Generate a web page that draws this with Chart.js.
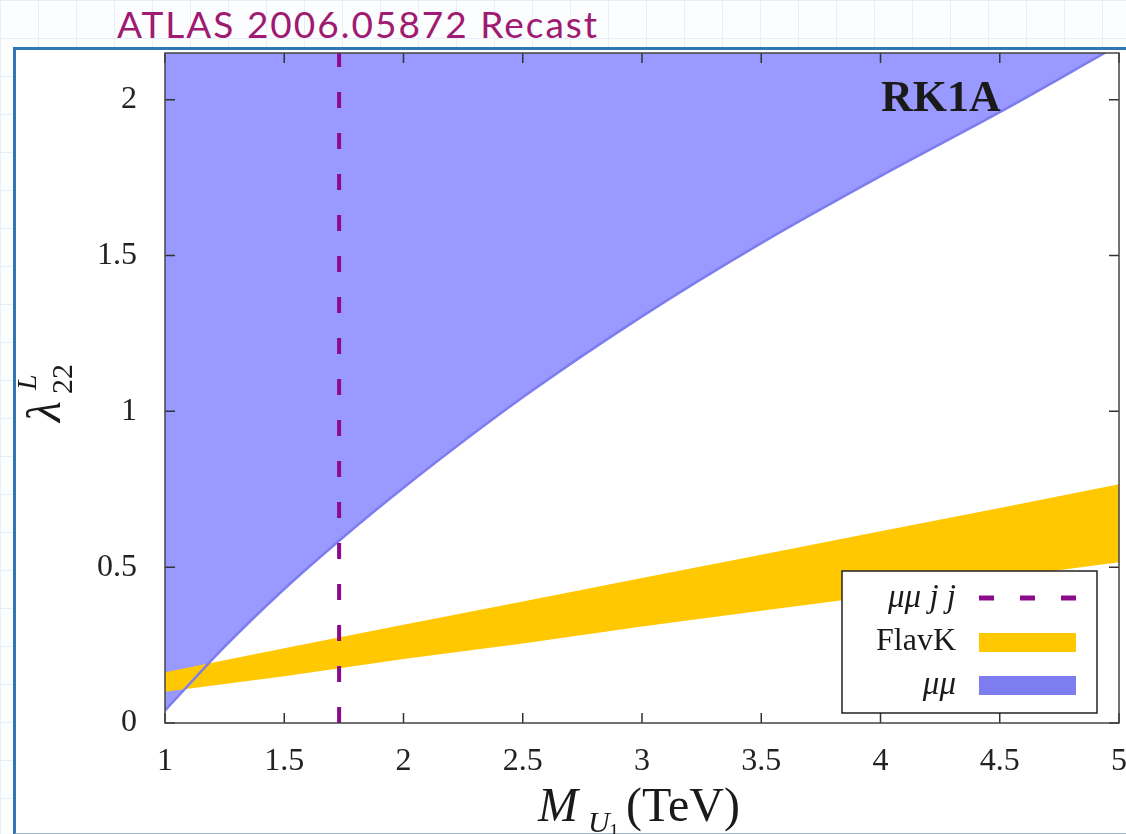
<!DOCTYPE html>
<html>
<head>
<meta charset="utf-8">
<script src="https://cdn.jsdelivr.net/npm/chart.js@4.4.0/dist/chart.umd.min.js"></script>
<style>
html, body { margin: 0; padding: 0; }
body {
    width: 1126px; height: 834px; overflow: hidden; position: relative;
    background-color: #fbfdff;
    background-image: linear-gradient(#e6eff7 1px, transparent 1px), linear-gradient(90deg, #e6eff7 1px, transparent 1px);
    background-size: 38px 38px;
}
#title { position: absolute; left: 117px; top: 1px; font-family: Lato, sans-serif; font-size: 37px; letter-spacing: 2px; color: #a01a72; }
#panel { position: absolute; left: 13px; top: 47px; width: 1113px; height: 783px; background: #fff;
    border-left: 3px solid #2f78b4; border-top: 3px solid #2f78b4; border-bottom: 2px solid #9db3c6; }
#chart { position: absolute; left: 0; top: 0; }
</style>
</head>
<body>
<div id="title">ATLAS 2006.05872 Recast</div>
<div id="panel"></div>
<canvas id="chart" width="1126" height="834"></canvas>
<script>
// mu mu exclusion boundary (region above is excluded)
var muMuMass = [1.0, 1.25, 1.5, 1.73, 2.0, 2.5, 3.0, 3.5, 4.0, 4.5, 4.94];
var muMuCoupling = [0.04, 0.245, 0.43, 0.585, 0.755, 1.045, 1.305, 1.54, 1.755, 1.96, 2.15];

// FlavK preferred band
var flavMass = [1.0, 1.5, 2.0, 2.5, 3.0, 3.5, 4.0, 4.5, 5.0];
var flavUpper = [0.163, 0.24, 0.315, 0.39, 0.465, 0.54, 0.615, 0.69, 0.766];
var flavLower = [0.10, 0.15, 0.205, 0.255, 0.31, 0.36, 0.41, 0.465, 0.516];

// mu mu j j limit
var mumujjMass = 1.73;

var xTicks = [1, 1.5, 2, 2.5, 3, 3.5, 4, 4.5, 5];
var yTicks = [0, 0.5, 1, 1.5, 2];

var blueFill = 'rgb(153, 153, 255)';
var blueLine = 'rgb(125, 125, 240)';
var yellow = 'rgb(255, 200, 0)';
var purple = 'rgb(140, 10, 140)';
var serif = '"Liberation Serif", "DejaVu Serif", serif';

function pts(xs, ys) {
    return xs.map(function (x, i) { return { x: x, y: ys[i] }; });
}

var framePlugin = {
    id: 'frame',
    afterDatasetsDraw: function (chart) {
        var ctx = chart.ctx, a = chart.chartArea;
        var xs = chart.scales.x, ys = chart.scales.y;
        ctx.save();
        ctx.strokeStyle = '#333';
        ctx.lineWidth = 1.5;
        xTicks.forEach(function (v) {
            var px = xs.getPixelForValue(v);
            ctx.beginPath();
            ctx.moveTo(px, a.bottom); ctx.lineTo(px, a.bottom - 10);
            ctx.moveTo(px, a.top); ctx.lineTo(px, a.top + 10);
            ctx.stroke();
        });
        yTicks.forEach(function (v) {
            var py = ys.getPixelForValue(v);
            ctx.beginPath();
            ctx.moveTo(a.left, py); ctx.lineTo(a.left + 10, py);
            ctx.moveTo(a.right, py); ctx.lineTo(a.right - 10, py);
            ctx.stroke();
        });
        ctx.strokeStyle = '#444';
        ctx.strokeRect(a.left, a.top, a.right - a.left, a.bottom - a.top);
        ctx.restore();
    },
    afterDraw: function (chart) {
        var ctx = chart.ctx, a = chart.chartArea;
        ctx.save();
        ctx.fillStyle = '#1a1a1a';

        // model label
        ctx.font = 'bold 44px ' + serif;
        ctx.textAlign = 'left';
        ctx.textBaseline = 'alphabetic';
        ctx.fillText('RK1A', a.left + 716, a.top + 58);

        // legend
        var lx = a.right - 277, ly = a.bottom - 152, lw = 255, lh = 142;
        ctx.fillStyle = '#fff';
        ctx.fillRect(lx, ly, lw, lh);
        ctx.strokeStyle = '#222';
        ctx.lineWidth = 1.5;
        ctx.strokeRect(lx, ly, lw, lh);
        var rows = [ly + 27, ly + 71, ly + 114];
        ctx.fillStyle = '#1a1a1a';
        ctx.textAlign = 'right';
        ctx.textBaseline = 'middle';
        ctx.font = 'italic 33px ' + serif;
        ctx.fillText('\u03bc\u03bc j j', lx + 114, rows[0]);
        ctx.font = '32px ' + serif;
        ctx.fillText('FlavK', lx + 114, rows[1]);
        ctx.font = 'italic 33px ' + serif;
        ctx.fillText('\u03bc\u03bc', lx + 114, rows[2]);
        ctx.strokeStyle = purple;
        ctx.lineWidth = 5;
        ctx.setLineDash([15, 26]);
        ctx.beginPath();
        ctx.moveTo(lx + 137, rows[0]); ctx.lineTo(lx + 235, rows[0]);
        ctx.stroke();
        ctx.setLineDash([]);
        ctx.fillStyle = yellow;
        ctx.fillRect(lx + 137, rows[1] - 9, 97, 19);
        ctx.fillStyle = blueLine;
        ctx.fillRect(lx + 137, rows[2] - 9, 97, 19);

        // x axis title
        ctx.fillStyle = '#1a1a1a';
        ctx.textAlign = 'left';
        ctx.textBaseline = 'alphabetic';
        ctx.font = 'italic 48px ' + serif;
        ctx.fillText('M', 538, 821);
        ctx.font = 'italic 30px ' + serif;
        ctx.fillText('U', 588, 832);
        ctx.font = '20px ' + serif;
        ctx.fillText('1', 609, 838);
        ctx.font = '48px ' + serif;
        ctx.fillText('(TeV)', 626, 821);

        // y axis title, rotated
        ctx.translate(60, 422);
        ctx.rotate(-Math.PI / 2);
        ctx.font = 'italic 48px ' + serif;
        ctx.fillText('\u03bb', 0, 0);
        ctx.font = 'italic 28px ' + serif;
        ctx.fillText('L', 32, -24);
        ctx.font = '30px ' + serif;
        ctx.fillText('22', 28, 12);
        ctx.restore();
    }
};

var ctx = document.getElementById('chart').getContext('2d');
var chart = new Chart(ctx, {
    type: 'line',
    data: {
        datasets: [{
            // mu mu excluded area
            data: pts(muMuMass, muMuCoupling),
            borderWidth: 0,
            backgroundColor: blueFill,
            fill: 'end',
            pointRadius: 0,
            cubicInterpolationMode: 'monotone',
            order: 5
        }, {
            // FlavK upper edge, filled down to lower edge
            data: pts(flavMass, flavUpper),
            borderWidth: 0,
            backgroundColor: yellow,
            fill: '+1',
            pointRadius: 0,
            order: 4
        }, {
            data: pts(flavMass, flavLower),
            borderWidth: 0,
            fill: false,
            pointRadius: 0,
            order: 3
        }, {
            // mu mu boundary line
            data: pts(muMuMass, muMuCoupling),
            borderColor: blueLine,
            borderWidth: 2.5,
            fill: false,
            pointRadius: 0,
            cubicInterpolationMode: 'monotone',
            order: 2
        }, {
            // mu mu j j vertical limit
            data: [{ x: mumujjMass, y: 0 }, { x: mumujjMass, y: 2.15 }],
            borderColor: purple,
            borderWidth: 4,
            borderDash: [16, 25],
            borderCapStyle: 'butt',
            fill: false,
            pointRadius: 0,
            order: 1
        }]
    },
    options: {
        responsive: false,
        animation: false,
        layout: { padding: { top: 53, right: 7, left: 0, bottom: 0 } },
        plugins: {
            legend: { display: false },
            tooltip: { enabled: false }
        },
        scales: {
            x: {
                type: 'linear',
                min: 1,
                max: 5,
                grid: { display: false },
                border: { display: false },
                afterBuildTicks: function (s) { s.ticks = xTicks.map(function (v) { return { value: v }; }); },
                afterFit: function (s) { s.height = 111; s.paddingLeft = 0; s.paddingRight = 0; },
                ticks: {
                    padding: 11,
                    color: '#222',
                    font: { family: serif, size: 32 },
                    callback: function (v) { return String(v); }
                }
            },
            y: {
                type: 'linear',
                min: 0,
                max: 2.15,
                grid: { display: false },
                border: { display: false },
                afterBuildTicks: function (s) { s.ticks = yTicks.map(function (v) { return { value: v }; }); },
                afterFit: function (s) { s.width = 165; s.paddingTop = 0; s.paddingBottom = 0; },
                ticks: {
                    padding: 20,
                    color: '#222',
                    font: { family: serif, size: 32 },
                    callback: function (v) { return String(v); }
                }
            }
        }
    },
    plugins: [framePlugin]
});
</script>
</body>
</html>
